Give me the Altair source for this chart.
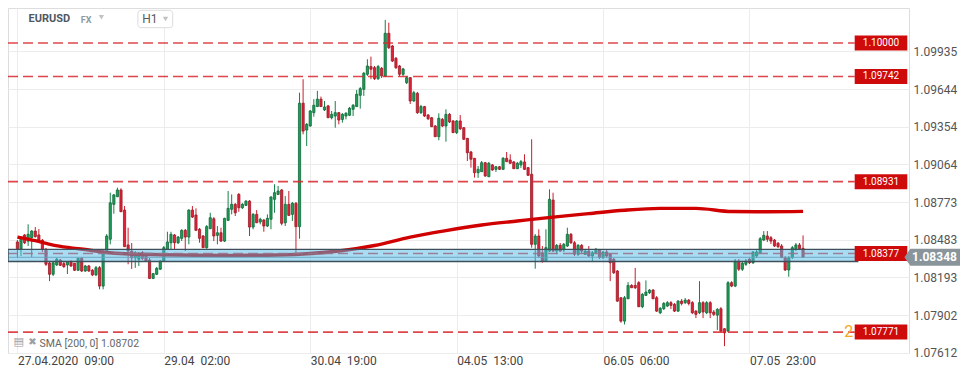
import json
import altair as alt
import pandas as pd

# ---- candle data (EURUSD, H1) ----
OPEN = [1.08466,1.08410,1.08520,1.08473,1.08499,1.08550,1.08520,1.08479,1.08410,1.08304,
1.08217,1.08289,1.08327,1.08299,1.08289,1.08314,1.08302,1.08248,1.08340,1.08242,
1.08281,1.08248,1.08212,1.08268,1.08126,1.08389,1.08487,1.08756,1.08815,1.08867,
1.08712,1.08443,1.08396,1.08343,1.08333,1.08383,1.08358,1.08327,1.08185,1.08217,
1.08256,1.08319,1.08410,1.08460,1.08520,1.08460,1.08494,1.08556,1.08504,1.08712,
1.08674,1.08564,1.08512,1.08422,1.08568,1.08645,1.08517,1.08537,1.08473,1.08633,
1.08718,1.08756,1.08833,1.08730,1.08748,1.08781,1.08581,1.08679,1.08620,1.08635,
1.08589,1.08641,1.08795,1.08833,1.08867,1.08614,1.08756,1.08679,1.08764,1.08584,
1.09536,1.09329,1.09360,1.09463,1.09510,1.09567,1.09484,1.09515,1.09424,1.09437,
1.09463,1.09411,1.09437,1.09443,1.09489,1.09510,1.09597,1.09643,1.09759,1.09818,
1.09810,1.09725,1.09805,1.09746,1.10075,1.09977,1.09882,1.09823,1.09759,1.09694,
1.09733,1.09553,1.09612,1.09463,1.09510,1.09445,1.09424,1.09360,1.09278,1.09411,
1.09360,1.09450,1.09399,1.09309,1.09399,1.09347,1.09265,1.09160,1.09111,1.09000,
1.09008,1.09077,1.08969,1.09060,1.09026,1.09046,1.09026,1.09111,1.09098,1.09083,
1.09031,1.09060,1.09083,1.09039,1.08988,1.08448,1.08512,1.08383,1.08319,1.08396,
1.08789,1.08396,1.08440,1.08404,1.08435,1.08525,1.08460,1.08371,1.08440,1.08371,
1.08396,1.08358,1.08383,1.08404,1.08345,1.08389,1.08371,1.08333,1.08242,1.08036,
1.07856,1.08028,1.08131,1.08131,1.08152,1.07967,1.08054,1.08075,1.08095,1.08036,
1.07920,1.07951,1.07972,1.07998,1.07985,1.07933,1.08010,1.07998,1.08018,1.07998,
1.07933,1.07920,1.07998,1.07920,1.07998,1.07926,1.07902,1.07951,1.07797,1.07779,
1.08152,1.08126,1.08319,1.08256,1.08294,1.08333,1.08306,1.08358,1.08383,1.08481,
1.08512,1.08499,1.08481,1.08456,1.08435,1.08345,1.08250,1.08345,1.08410,1.08443,
1.08417]
HIGH = [1.08481,1.08497,1.08527,1.08602,1.08558,1.08581,1.08566,1.08489,1.08420,1.08312,
1.08319,1.08343,1.08335,1.08312,1.08319,1.08327,1.08304,1.08343,1.08350,1.08289,
1.08289,1.08258,1.08281,1.08281,1.08404,1.08527,1.08846,1.08836,1.08885,1.08880,
1.08743,1.08576,1.08458,1.08396,1.08389,1.08396,1.08373,1.08343,1.08227,1.08273,
1.08327,1.08435,1.08545,1.08545,1.08527,1.08512,1.08564,1.08566,1.08718,1.08743,
1.08725,1.08574,1.08520,1.08597,1.08691,1.08658,1.08589,1.08576,1.08653,1.08859,
1.08833,1.08766,1.08843,1.08766,1.08789,1.08789,1.08689,1.08712,1.08653,1.08643,
1.08679,1.08820,1.08911,1.08898,1.08874,1.08820,1.08859,1.08774,1.08774,1.09617,
1.09721,1.09383,1.09484,1.09567,1.09631,1.09587,1.09553,1.09523,1.09476,1.09553,
1.09468,1.09460,1.09468,1.09507,1.09530,1.09638,1.09661,1.09777,1.09875,1.09895,
1.09823,1.09831,1.09815,1.10178,1.10157,1.09985,1.09892,1.09831,1.09808,1.09746,
1.09738,1.09631,1.09623,1.09523,1.09515,1.09453,1.09430,1.09368,1.09458,1.09422,
1.09489,1.09460,1.09406,1.09406,1.09445,1.09352,1.09268,1.09167,1.09114,1.09052,
1.09090,1.09083,1.09083,1.09067,1.09052,1.09052,1.09121,1.09160,1.09142,1.09090,
1.09083,1.09098,1.09142,1.09044,1.09258,1.08527,1.08564,1.08435,1.08564,1.08872,
1.08846,1.08450,1.08458,1.08458,1.08576,1.08535,1.08473,1.08450,1.08450,1.08412,
1.08435,1.08396,1.08420,1.08412,1.08396,1.08404,1.08381,1.08343,1.08250,1.08041,
1.08049,1.08157,1.08141,1.08266,1.08164,1.08072,1.08170,1.08103,1.08103,1.08049,
1.07964,1.08003,1.08010,1.08010,1.07995,1.08018,1.08026,1.08034,1.08026,1.08010,
1.07941,1.08164,1.08010,1.08010,1.08010,1.07941,1.07956,1.07964,1.07802,1.08164,
1.08164,1.08335,1.08335,1.08312,1.08335,1.08343,1.08396,1.08404,1.08504,1.08550,
1.08550,1.08512,1.08489,1.08466,1.08450,1.08358,1.08358,1.08435,1.08458,1.08458,
1.08517]
LOW = [1.08343,1.08358,1.08450,1.08435,1.08350,1.08500,1.08473,1.08389,1.08281,1.08164,
1.08203,1.08281,1.08281,1.08266,1.08219,1.08273,1.08242,1.08242,1.08235,1.08235,
1.08235,1.08203,1.08203,1.08101,1.08101,1.08381,1.08448,1.08684,1.08812,1.08697,
1.08427,1.08294,1.08258,1.08266,1.08281,1.08327,1.08312,1.08180,1.08180,1.08211,
1.08250,1.08312,1.08404,1.08410,1.08410,1.08450,1.08473,1.08396,1.08448,1.08651,
1.08550,1.08460,1.08420,1.08414,1.08566,1.08473,1.08448,1.08466,1.08466,1.08628,
1.08679,1.08666,1.08699,1.08720,1.08743,1.08512,1.08564,1.08612,1.08602,1.08545,
1.08581,1.08564,1.08691,1.08828,1.08594,1.08589,1.08666,1.08628,1.08358,1.08491,
1.09296,1.09206,1.09355,1.09432,1.09507,1.09507,1.09476,1.09422,1.09411,1.09347,
1.09373,1.09386,1.09411,1.09437,1.09437,1.09507,1.09494,1.09592,1.09746,1.09721,
1.09715,1.09715,1.09730,1.09738,1.09954,1.09854,1.09800,1.09746,1.09746,1.09684,
1.09530,1.09546,1.09453,1.09453,1.09430,1.09406,1.09352,1.09275,1.09250,1.09352,
1.09239,1.09383,1.09306,1.09298,1.09329,1.09252,1.09090,1.09039,1.08962,1.08960,
1.09006,1.08967,1.08967,1.09014,1.09006,1.09021,1.09021,1.09083,1.09067,1.09029,
1.09029,1.09037,1.09021,1.08975,1.08422,1.08260,1.08343,1.08306,1.08312,1.08389,
1.08389,1.08373,1.08389,1.08389,1.08427,1.08450,1.08358,1.08358,1.08373,1.08365,
1.08350,1.08319,1.08373,1.08335,1.08335,1.08343,1.08164,1.08219,1.08003,1.07843,
1.07830,1.08026,1.08111,1.08103,1.07964,1.07956,1.08049,1.08065,1.08026,1.07926,
1.07910,1.07941,1.07964,1.07949,1.07926,1.07926,1.07977,1.07987,1.07977,1.07910,
1.07879,1.07910,1.07879,1.07910,1.07879,1.07895,1.07787,1.07771,1.07663,1.07771,
1.08118,1.08118,1.08242,1.08242,1.08281,1.08296,1.08296,1.08343,1.08373,1.08473,
1.08466,1.08450,1.08427,1.08420,1.08343,1.08242,1.08198,1.08335,1.08396,1.08404,
1.08343]
CLOSE = [1.08414,1.08487,1.08460,1.08525,1.08550,1.08507,1.08479,1.08410,1.08294,1.08217,
1.08306,1.08333,1.08286,1.08276,1.08314,1.08281,1.08248,1.08340,1.08242,1.08281,
1.08242,1.08212,1.08268,1.08126,1.08389,1.08512,1.08768,1.08829,1.08867,1.08699,
1.08430,1.08396,1.08343,1.08381,1.08358,1.08340,1.08319,1.08185,1.08222,1.08263,
1.08319,1.08422,1.08466,1.08525,1.08460,1.08504,1.08556,1.08504,1.08712,1.08658,
1.08556,1.08494,1.08422,1.08584,1.08653,1.08512,1.08537,1.08473,1.08648,1.08725,
1.08756,1.08691,1.08730,1.08756,1.08781,1.08581,1.08679,1.08614,1.08641,1.08589,
1.08648,1.08812,1.08846,1.08859,1.08610,1.08756,1.08671,1.08764,1.08584,1.09536,
1.09321,1.09373,1.09476,1.09520,1.09567,1.09510,1.09507,1.09424,1.09450,1.09463,
1.09406,1.09450,1.09458,1.09497,1.09520,1.09605,1.09648,1.09767,1.09823,1.09798,
1.09725,1.09818,1.09746,1.10075,1.09964,1.09861,1.09810,1.09759,1.09800,1.09733,
1.09553,1.09617,1.09463,1.09510,1.09437,1.09416,1.09355,1.09278,1.09420,1.09360,
1.09450,1.09391,1.09309,1.09399,1.09339,1.09258,1.09154,1.09104,1.09000,1.09026,
1.09077,1.08975,1.09073,1.09021,1.09046,1.09026,1.09111,1.09085,1.09073,1.09031,
1.09073,1.09085,1.09026,1.08980,1.08448,1.08512,1.08358,1.08319,1.08422,1.08795,
1.08396,1.08440,1.08396,1.08448,1.08525,1.08460,1.08371,1.08440,1.08396,1.08396,
1.08358,1.08383,1.08410,1.08345,1.08389,1.08358,1.08306,1.08229,1.08010,1.07856,
1.08036,1.08131,1.08113,1.08113,1.07967,1.08062,1.08080,1.08095,1.08028,1.07933,
1.07954,1.07992,1.07998,1.07977,1.07933,1.08010,1.07992,1.08018,1.07992,1.07920,
1.07908,1.07998,1.07926,1.07998,1.07920,1.07908,1.07946,1.07779,1.07766,1.08152,
1.08126,1.08319,1.08256,1.08302,1.08319,1.08306,1.08389,1.08389,1.08491,1.08517,
1.08487,1.08473,1.08435,1.08430,1.08345,1.08250,1.08345,1.08422,1.08443,1.08414,
1.08348]

# SMA(200) read at a few candle positions
SMA_IDX = [0, 5, 10, 15, 20, 25, 30, 40, 50, 60, 70, 80, 90, 100, 110, 120, 130,
           140, 150, 160, 170, 180, 190, 200, 210, 220]
SMA_VAL = [1.08504, 1.08476, 1.08442, 1.08421, 1.08404, 1.08385, 1.08375, 1.08368,
           1.08364, 1.08362, 1.08364, 1.08373, 1.08396, 1.08439, 1.08504, 1.08554,
           1.08597, 1.08628, 1.08658, 1.08685, 1.08711, 1.08725, 1.08725, 1.08701,
           1.08699, 1.08702]

LEVELS = [1.10000, 1.09742, 1.08931, 1.08377, 1.07771]
LEVEL_TEXT = ["1.10000", "1.09742", "1.08931", "1.08377", "1.07771"]
ZONE = [1.08315, 1.08409]
LAST_PRICE = 1.08348
Y_TICKS = [1.07612, 1.07902, 1.08193, 1.08483, 1.08773, 1.09064, 1.09354, 1.09644, 1.09935]
X_TICKS = [0, 41, 82, 123, 164, 205]
X_LABELS = ["27.04.2020\u00a0\u00a009:00", "29.04\u00a0\u00a002:00", "30.04\u00a0\u00a019:00",
            "04.05\u00a0\u00a013:00", "06.05\u00a0\u00a006:00", "07.05\u00a0\u00a023:00"]
SYMBOL, MARKET, PERIOD = "EURUSD", "FX", "H1"
SMA_TEXT = "SMA [200, 0] 1.08702"

# ---- styling ----
W, H = 901, 345
X_DOM = [-1.238, 248.27]
Y_DOM = [1.07610, 1.10270]
FONT = "Roboto"
GRID = "#ececec"
G_FILL, G_EDGE, G_WICK = "#1f9d57", "#0f6a3a", "#168048"
R_FILL, R_EDGE, R_WICK = "#e0223a", "#9b1b24", "#c8202e"
TAG_RED = "#cf0a0a"

df = pd.DataFrame({"i": list(range(len(OPEN))), "o": OPEN, "h": HIGH, "l": LOW, "c": CLOSE})
df["dir"] = ["up" if c >= o else "down" for o, c in zip(OPEN, CLOSE)]
sma_df = pd.DataFrame({"si": SMA_IDX, "sv": SMA_VAL})
lv_df = pd.DataFrame({"lvl": LEVELS, "txt": LEVEL_TEXT})
zone_df = pd.DataFrame({"lo": [ZONE[0]], "hi": [ZONE[1]]})
last_df = pd.DataFrame({"p": [LAST_PRICE]})

xs = alt.Scale(domain=X_DOM, nice=False, zero=False)
ys = alt.Scale(domain=Y_DOM, nice=False, zero=False)

label_expr = "{}[indexof({}, datum.value)]".format(
    json.dumps(X_LABELS, ensure_ascii=False), json.dumps(X_TICKS))

xaxis = alt.Axis(values=X_TICKS, labelExpr=label_expr, grid=True, gridColor=GRID,
                 domain=False, ticks=False, labelAlign="left", labelBaseline="middle",
                 labelPadding=7, labelFontSize=12, labelColor="#444", labelFont=FONT,
                 labelOverlap=False, labelFlush=False, title=None)
yaxis = alt.Axis(orient="right", values=Y_TICKS, format=".5f", grid=True, gridColor=GRID,
                 domain=False, ticks=False, labelPadding=4, labelFontSize=12,
                 labelColor="#555", labelFont=FONT, title=None)

dir_dom = ["up", "down"]

wick = alt.Chart(df).mark_rule(strokeWidth=1).encode(
    x=alt.X("i:Q", scale=xs, axis=xaxis, title=None),
    y=alt.Y("l:Q", scale=ys, axis=yaxis, title=None),
    y2="h:Q",
    color=alt.Color("dir:N", scale=alt.Scale(domain=dir_dom, range=[G_WICK, R_WICK]), legend=None),
)
body = alt.Chart(df).mark_bar(size=2.2, strokeWidth=0.8).encode(
    x=alt.X("i:Q", scale=xs, title=None),
    y=alt.Y("o:Q", scale=ys, title=None),
    y2="c:Q",
    fill=alt.Fill("dir:N", scale=alt.Scale(domain=dir_dom, range=[G_FILL, R_FILL]), legend=None),
    stroke=alt.Stroke("dir:N", scale=alt.Scale(domain=dir_dom, range=[G_EDGE, R_EDGE]), legend=None),
)
sma = alt.Chart(sma_df).mark_line(color="#d00000", strokeWidth=3.4, interpolate="monotone").encode(
    x=alt.X("si:Q", scale=xs, title=None),
    y=alt.Y("sv:Q", scale=ys, title=None),
)
last_line = alt.Chart(last_df).mark_rule(color="#7d8b95", strokeWidth=1, opacity=0.9).encode(
    y=alt.Y("p:Q", scale=ys, title=None), x=alt.value(0), x2=alt.value(897))
levels = alt.Chart(lv_df).mark_rule(strokeDash=[10, 5], strokeWidth=1.6, color="#d9262b",
                                    opacity=0.85).encode(
    y=alt.Y("lvl:Q", scale=ys, title=None), x=alt.value(0), x2=alt.value(846.7))
zone = alt.Chart(zone_df).mark_rect(fill="#51b9e5", fillOpacity=0.5, stroke="#3e4f5b",
                                    strokeWidth=1.4).encode(
    x=alt.value(0), x2=alt.value(849.7),
    y=alt.Y("lo:Q", scale=ys, title=None), y2="hi:Q")

TAG_PATH = "M-1,-0.285L1,-0.285L1,0.285L-1,0.285Z"
tags = alt.Chart(lv_df).mark_point(shape=TAG_PATH, size=2767, filled=True, fill=TAG_RED,
                                   strokeWidth=0, opacity=1).encode(
    x=alt.value(873), y=alt.Y("lvl:Q", scale=ys, title=None))
tag_text = alt.Chart(lv_df).mark_text(color="white", fontSize=10, font=FONT, align="center",
                                      baseline="middle").encode(
    x=alt.value(873), y=alt.Y("lvl:Q", scale=ys, title=None), text="txt:N")
two = alt.Chart(pd.DataFrame({"lvl": [LEVELS[-1]], "t": ["2"]})).mark_text(
    color="#f5a623", fontSize=16, font=FONT, align="center", baseline="middle").encode(
    x=alt.value(840.8), y=alt.Y("lvl:Q", scale=ys, title=None), text="t:N")

ARROW_PATH = "M-1,0L-0.786,-0.306L1,-0.306L1,0.306L-0.786,0.306Z"
last_tag = alt.Chart(last_df).mark_point(shape=ARROW_PATH, size=3091, filled=True,
                                         fill="#8a959b", strokeWidth=0, opacity=1).encode(
    x=alt.value(924.2), y=alt.Y("p:Q", scale=ys, title=None))
last_text = alt.Chart(last_df).mark_text(color="white", fontSize=12, fontWeight="bold",
                                         font=FONT, align="center", baseline="middle").encode(
    x=alt.value(926.5), y=alt.Y("p:Q", scale=ys, title=None),
    text=alt.Text("p:Q", format=".5f"))


def label(txt, x, y, **kw):
    return alt.Chart(pd.DataFrame({"t": [txt]})).mark_text(**kw).encode(
        x=alt.value(x), y=alt.value(y), text="t:N")


one = pd.DataFrame({"a": [0]})
h1_box = alt.Chart(one).mark_rect(fill="white", stroke="#dcdcdc", strokeWidth=1,
                                  cornerRadius=3).encode(
    x=alt.value(129.9), x2=alt.value(164.7), y=alt.value(2.3), y2=alt.value(19.7))
tri1 = alt.Chart(one).mark_point(shape="triangle-down", size=28, filled=True,
                                 color="#c2c2c2", opacity=1).encode(x=alt.value(93.4), y=alt.value(9.3))
tri2 = alt.Chart(one).mark_point(shape="triangle-down", size=28, filled=True,
                                 color="#c2c2c2", opacity=1).encode(x=alt.value(157.5), y=alt.value(11))

header = [
    label(SYMBOL, 20.6, 11.3, fontSize=11, fontWeight="bold", color="#50595f", font=FONT,
          align="left", baseline="middle"),
    label(MARKET, 72.8, 11.8, fontSize=9, fontWeight="bold", color="#8c9ba5", font=FONT,
          align="left", baseline="middle"),
    tri1, h1_box,
    label(PERIOD, 134.2, 11.2, fontSize=12, color="#5a5a5a", font=FONT, align="left",
          baseline="middle"),
    tri2,
    label("\u25a4", 10.8, 334, fontSize=11, color="#9aa0a6", font="DejaVu Sans",
          align="center", baseline="middle"),
    label("\u2716", 24.4, 334, fontSize=10, color="#9aa0a6", font="DejaVu Sans",
          align="center", baseline="middle"),
    label(SMA_TEXT, 31.5, 336.3, fontSize=10.5, color="#666", font=FONT, align="left",
          baseline="middle"),
]

chart = alt.layer(
    wick, body, sma, last_line, levels, zone, tags, tag_text, two, last_tag, last_text,
    *header
).properties(
    width=W, height=H,
    padding={"left": 0, "top": 0, "right": 53, "bottom": 13},
    autosize=alt.AutoSizeParams(type="none"),
    background="white",
).configure_view(stroke=None).configure(font=FONT)

chart.save("out.html", embed_options={"renderer": "svg", "actions": False})
